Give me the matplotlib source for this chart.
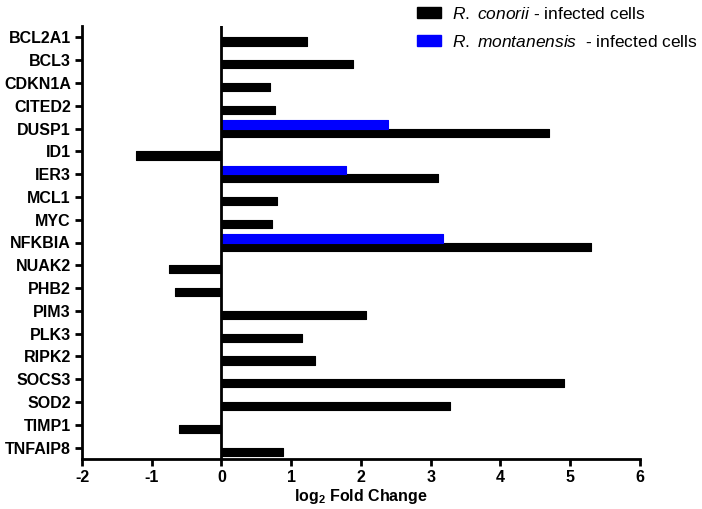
import numpy as np
import matplotlib
matplotlib.use("Agg")
import matplotlib.pyplot as plt
from matplotlib.patches import Patch

plt.rcParams['font.family'] = ['Liberation Sans', 'DejaVu Sans']
plt.rcParams['mathtext.fontset'] = 'custom'
plt.rcParams['mathtext.rm'] = 'Liberation Sans'
plt.rcParams['mathtext.it'] = 'Liberation Sans:italic'
plt.rcParams['mathtext.bf'] = 'Liberation Sans:bold'

genes = ['BCL2A1', 'BCL3', 'CDKN1A', 'CITED2', 'DUSP1', 'ID1', 'IER3', 'MCL1',
         'MYC', 'NFKBIA', 'NUAK2', 'PHB2', 'PIM3', 'PLK3', 'RIPK2', 'SOCS3',
         'SOD2', 'TIMP1', 'TNFAIP8']
conorii = [1.22, 1.89, 0.69, 0.76, 4.69, -1.23, 3.11, 0.80, 0.73, 5.30,
           -0.75, -0.67, 2.07, 1.16, 1.34, 4.91, 3.27, -0.61, 0.88]
montanensis_genes = ['DUSP1', 'IER3', 'NFKBIA']
montanensis = [2.39, 1.78, 3.18]
xticks = [-2, -1, 0, 1, 2, 3, 4, 5, 6]

fig = plt.figure(figsize=(7.02, 5.09), dpi=100)
ax = fig.add_axes([82/702, 1-459/509, (640-82)/702, (459-26)/509])

h = 0.36
ypos = np.arange(len(genes))
ax.barh(ypos, conorii, height=h, align='edge', color='black',
        edgecolor='black', linewidth=0.8, joinstyle='round')
mpos = np.array([genes.index(g) for g in montanensis_genes])
ax.barh(mpos - h, montanensis, height=h, align='edge', color='#0000ff',
        edgecolor='#0000ff', linewidth=0.8, joinstyle='round')

ax.axvline(0, color='black', lw=2)
ax.set_ylim(len(genes) - 0.5, -0.5)
ax.set_xlim(-2, 6)
ax.set_yticks(ypos)
ax.set_yticklabels(genes, fontsize=11.5, fontweight='bold')
ax.set_xticks(xticks)
ax.set_xticklabels([str(t) for t in xticks], fontsize=11.5, fontweight='bold')
ax.tick_params(axis='both', direction='out', length=5, width=2, pad=3)
for s in ['top', 'right']:
    ax.spines[s].set_visible(False)
for s in ['left', 'bottom']:
    ax.spines[s].set_linewidth(2)
ax.set_xlabel(r'log$_\mathbf{2}$ Fold Change', fontsize=11.5, fontweight='bold', labelpad=1)

handles = [Patch(facecolor='black', edgecolor='black'),
           Patch(facecolor='#0000ff', edgecolor='#0000ff')]
labels = [r'$\mathit{R.\ conorii}$ - infected cells',
          r'$\mathit{R.\ montanensis}$  - infected cells']
fig.legend(handles, labels, loc='upper left', bbox_to_anchor=(417/702, 1-6/509),
           frameon=False, fontsize=12.5, handlelength=1.38, handleheight=0.6,
           handletextpad=0.63, labelspacing=0.67, borderpad=0, borderaxespad=0)

fig.savefig('out.png', dpi=100)
